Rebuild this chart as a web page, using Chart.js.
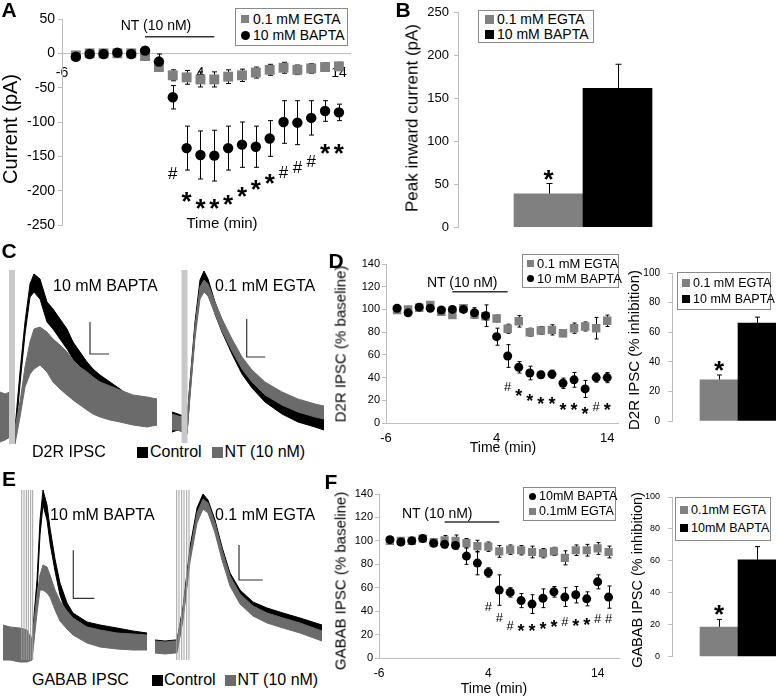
<!DOCTYPE html>
<html>
<head>
<meta charset="utf-8">
<title>NT inward current and IPSC inhibition</title>
<script src="https://cdn.jsdelivr.net/npm/chart.js@4.4.1/dist/chart.umd.min.js"></script>
<style>
  html, body { margin: 0; background: #fff; }
  #fig { position: relative; width: 777px; height: 697px; overflow: hidden; font-family: 'Liberation Sans', Arial, sans-serif; color: #000; }
  #fig canvas { position: absolute; }
  .txt { position: absolute; white-space: nowrap; line-height: 1; }
  .legend { position: absolute; box-sizing: border-box; background: #fff; display: flex; flex-direction: column; justify-content: space-evenly; line-height: 1; white-space: nowrap; }
  .legend.boxed { border: 1px solid #8a8a8a; }
  .legend .row { display: flex; align-items: center; }
  .legend .mk { display: inline-block; flex: none; }
</style>
</head>
<body>
<div id="fig"></div>
<script>
// ---- data ----
const timeA = [-5, -4, -3, -2, -1, 0, 1, 2, 3, 4, 5, 6, 7, 8, 9, 10, 11, 12, 13, 14]
const egtaA = [-3, 0, 0, 0, 0, -4, -20, -32, -35, -38, -38, -34, -32, -28, -24, -21, -24, -22, -20, -19]
const egtaErrA = [2, 2, 2, 2, 2, 3, 4, 8, 10, 11, 11, 10, 9, 8, 8, 8, 7, 7, 6, 6]
const baptaA = [-5, -1, -1, 1, -1, 4, -12, -64, -138, -148, -149, -138, -133, -136, -124, -100, -101, -94, -84, -86]
const baptaErrA = [2, 2, 2, 2, 2, 3, 11, 17, 32, 35, 37, 32, 33, 30, 26, 31, 32, 25, 15, 12]
const sigA = ['', '', '', '', '', '', '', '#', '*', '*', '*', '*', '*', '*', '*', '#', '#', '#', '*', '*']
const sigLevelA = [null, null, null, null, null, null, null, -174, -206, -216, -217, -210, -199, -188, -180, -172, -165, -156, -137, -137]

const timeD = [-5, -4, -3, -2, -1, 0, 1, 2, 3, 4, 5, 6, 7, 8, 9, 10, 11, 12, 13, 14]
const egtaD = [99.5, 100, 101.5, 104, 98, 95, 101, 95.5, 94, 92, 83, 89.5, 80, 81.5, 82, 79, 83.5, 85, 83.5, 90]
const egtaErrD = [2, 2, 2, 2, 2, 2, 2, 3, 3.5, 3, 4, 5, 3.5, 3.5, 4.5, 3, 4.5, 4, 9.5, 5]
const baptaD = [101, 97, 102, 101, 99.5, 100, 100, 97, 94.5, 76, 59, 49, 44, 42.5, 43, 35, 38, 30, 40, 40]
const baptaErrD = [2, 2, 2, 2, 2, 2, 2, 4.5, 9.5, 7.5, 10, 5, 6, 3, 3.5, 4.5, 6.5, 7.5, 4, 4.5]
const sigD = ['', '', '', '', '', '', '', '', '', '', '#', '*', '*', '*', '*', '*', '*', '*', '#', '*']
const sigLevelD = [null, null, null, null, null, null, null, null, null, null, 32, 28, 23.5, 20.5, 20.5, 15.5, 15.5, 11.7, 14.7, 15.5]

const timeF = [-5, -4, -3, -2, -1, 0, 1, 2, 3, 4, 5, 6, 7, 8, 9, 10, 11, 12, 13, 14, 15]
const baptaF = [101, 99, 100, 102, 98, 97, 96, 87, 81, 73, 58, 56, 49, 46, 51, 56.5, 52, 54, 50.5, 65, 52]
const baptaErrF = [2, 2, 2, 2, 2, 3, 3, 7, 10, 4, 13, 4, 6, 8, 8, 4.5, 8, 7, 6, 6, 9.5]
const egtaF = [100, 100, 100, 102, 99, 100.5, 100, 98, 95.5, 95, 91, 92.5, 92, 90.5, 89.5, 91, 85.5, 92, 92, 93.5, 90.5]
const egtaErrF = [2, 2, 2, 2, 3, 4, 5, 4, 5, 4, 5, 4, 4, 5, 4, 3.5, 6, 4.5, 5, 5, 5]
const sigF = ['', '', '', '', '', '', '', '', '', '#', '#', '#', '*', '*', '*', '*', '#', '*', '*', '#', '#']
const sigLevelF = [null, null, null, null, null, null, null, null, null, 44, 35, 27.6, 26.7, 27, 28.7, 30, 31, 31.5, 32, 34, 34]

const timeTicks = [-6, 4, 14]
const ntWindow = [0, 5]
const ntLevelA = 24
const ntLevelD = 115.5
const ntLevelF = 116

const peakB = [39, 162]
const peakErrB = [12, 28]
const inhibD = [27.8, 66.2]
const inhibErrD = [3.3, 4]
const inhibF = [18.5, 60.7]
const inhibErrF = [4.8, 8.2]
const barSig = ['*', '']

// example traces: upper / lower edge of each noisy sweep (arbitrary units)
const cLeftTime = [0, 5, 10, 15, 20, 25, 30, 34, 40, 47, 53, 60, 67, 73, 80, 87, 93, 100, 110, 120, 133, 147, 157]
const cLeftCtrlHi = [57, 55, 50, 23, 80, 130, 168, 178, 173, 150, 143, 133, 123, 110, 100, 90, 83, 77, 70, 63, 53, 50, 47]
const cLeftCtrlLo = [33, 33, 30, 10, 68, 118, 155, 160, 153, 130, 123, 113, 103, 93, 83, 77, 70, 63, 53, 43, 33, 30, 27]
const cLeftNtHi = [60, 58, 60, 25, 50, 85, 110, 123, 125, 120, 113, 107, 100, 92, 85, 80, 75, 70, 66, 62, 57, 55, 53]
const cLeftNtLo = [10, 12, 15, 8, 35, 65, 78, 83, 87, 80, 70, 63, 57, 52, 47, 42, 38, 35, 32, 30, 27, 25, 27]

const cRightTime = [172, 178, 183, 187, 190, 195, 200, 204, 208, 215, 222, 232, 242, 252, 265, 282, 298, 315, 324]
const cRightCtrlHi = [40, 38, 36, 32, 70, 130, 172, 181, 173, 150, 132, 110, 90, 76, 63, 53, 46, 40, 38]
const cRightCtrlLo = [20, 22, 20, 18, 58, 118, 162, 170, 162, 138, 120, 98, 78, 64, 50, 38, 30, 25, 22]
const cRightNtHi = [38, 36, 35, 31, 68, 126, 165, 172, 168, 150, 133, 113, 95, 82, 70, 60, 53, 48, 46]
const cRightNtLo = [22, 22, 20, 18, 56, 114, 153, 160, 156, 138, 121, 101, 83, 70, 57, 47, 40, 35, 33]

const eLeftTime = [3, 10, 20, 27, 32, 37, 40, 43, 47, 50, 55, 60, 67, 73, 87, 100, 117, 133, 147]
const eLeftCtrlHi = [35, 33, 32, 30, 25, 85, 145, 175, 160, 137, 106, 82, 62, 52, 43, 40, 37, 34, 32]
const eLeftCtrlLo = [12, 10, 10, 8, 12, 72, 130, 160, 145, 122, 94, 70, 50, 40, 30, 27, 24, 22, 20]
const eLeftNtHi = [40, 38, 37, 35, 25, 70, 90, 100, 98, 90, 75, 64, 54, 47, 38, 35, 32, 31, 30]
const eLeftNtLo = [5, 5, 3, 3, 5, 52, 75, 75, 72, 68, 55, 44, 36, 30, 22, 18, 16, 15, 15]

const eRightTime = [155, 165, 175, 177, 183, 190, 197, 203, 208, 215, 222, 230, 240, 253, 267, 283, 300, 322]
const eRightCtrlHi = [25, 24, 25, 25, 58, 118, 157, 171, 165, 145, 118, 92, 75, 63, 57, 52, 47, 40]
const eRightCtrlLo = [14, 13, 14, 14, 48, 108, 148, 162, 155, 135, 108, 82, 65, 53, 47, 42, 37, 30]
const eRightNtHi = [24, 23, 24, 24, 55, 113, 152, 166, 162, 142, 115, 89, 71, 59, 52, 47, 42, 34]
const eRightNtLo = [12, 11, 12, 12, 45, 103, 142, 156, 152, 132, 105, 79, 61, 49, 42, 37, 32, 24]

const stimC = [12, 184.5]
const stimE = [21.7, 24, 26.3, 28.3, 30.7, 32.7, 176.7, 179, 181.7, 184, 186.7, 189]
const stimRangeC = [8, 182]
const stimRangeE = [5, 175]
// scale bars: [corner time, corner amplitude, bar length in time, bar length in amplitude]
const scaleBarsC = [[90, 98, 19, 32], [246.7, 95, 18.5, 38]]
const scaleBarsE = [[73.3, 66.7, 21, 48], [239, 85, 23.7, 35]]

// ---- styling ----
const FONT = "'Liberation Sans', Arial, sans-serif"
const GREY = '#808080'
const NT_GREY = '#6b6b6b'
const AXIS = '#bdbdbd'

Chart.defaults.font.family = FONT
Chart.defaults.color = '#000'
Chart.defaults.animation = false
Chart.defaults.responsive = false
Chart.defaults.plugins.legend.display = false
Chart.defaults.plugins.tooltip.enabled = false

const fig = document.getElementById('fig')

function addCanvas(box) {
  const c = document.createElement('canvas')
  c.width = box.w
  c.height = box.h
  c.style.left = box.left + 'px'
  c.style.top = box.top + 'px'
  fig.appendChild(c)
  return c
}

function addText(text, x, y, size, opts = {}) {
  const el = document.createElement('div')
  el.className = 'txt'
  el.textContent = text
  el.style.left = x + 'px'
  el.style.top = y + 'px'
  el.style.fontSize = size + 'px'
  if (opts.bold) el.style.fontWeight = 'bold'
  const dx = opts.left ? '0' : '-50%'
  el.style.transform = `translate(${dx}, -50%)` + (opts.rotate ? ' rotate(-90deg)' : '')
  fig.appendChild(el)
  return el
}

function addLegend(box, entries, size, boxed = true) {
  const el = document.createElement('div')
  el.className = 'legend' + (boxed ? ' boxed' : '')
  Object.assign(el.style, {
    left: box.left + 'px', top: box.top + 'px', width: box.w + 'px', height: box.h + 'px',
    fontSize: size + 'px', paddingLeft: (box.pad || 5) + 'px'
  })
  if (box.row) el.style.flexDirection = 'row'
  if (box.row) el.style.justifyContent = 'flex-start'
  entries.forEach(e => {
    const row = document.createElement('div')
    row.className = 'row'
    if (e.gap) row.style.marginLeft = e.gap + 'px'
    const mk = document.createElement('span')
    mk.className = 'mk'
    mk.style.width = mk.style.height = e.mark + 'px'
    mk.style.background = e.color
    mk.style.marginRight = (e.space || 3) + 'px'
    if (e.shape === 'circle') mk.style.borderRadius = '50%'
    row.appendChild(mk)
    row.appendChild(document.createTextNode(e.label))
    el.appendChild(row)
  })
  fig.appendChild(el)
}

// ---- plugins ----
const errorBars = {
  id: 'errorBars',
  beforeDatasetsDraw(chart, args, opts) {
    const ctx = chart.ctx
    ctx.save()
    ctx.strokeStyle = '#000'
    ctx.lineWidth = 1
    chart.data.datasets.forEach((ds, i) => {
      if (!ds.errors) return
      const meta = chart.getDatasetMeta(i)
      const yScale = chart.scales[meta.yAxisID]
      meta.data.forEach((el, j) => {
        const err = ds.errors[j]
        if (!err) return
        const v = ds.data[j].y
        const x = Math.round(el.x) + 0.5
        const top = yScale.getPixelForValue(v + err)
        const bottom = ds.errorUpOnly ? el.y : yScale.getPixelForValue(v - err)
        ctx.beginPath()
        ctx.moveTo(x, top)
        ctx.lineTo(x, bottom)
        ctx.moveTo(x - opts.cap, top)
        ctx.lineTo(x + opts.cap, top)
        if (!ds.errorUpOnly) {
          ctx.moveTo(x - opts.cap, bottom)
          ctx.lineTo(x + opts.cap, bottom)
        }
        ctx.stroke()
      })
    })
    ctx.restore()
  }
}

const sigMarks = {
  id: 'sigMarks',
  afterDatasetsDraw(chart, args, opts) {
    if (!opts.items) return
    const {ctx, scales: {x, y}} = chart
    ctx.save()
    ctx.fillStyle = '#000'
    ctx.textAlign = 'center'
    ctx.textBaseline = 'alphabetic'
    opts.items.forEach(m => {
      const star = m.text === '*'
      const size = star ? opts.starSize : opts.hashSize
      ctx.font = `${star ? 'bold ' : ''}${size}px ${FONT}`
      const px = x.getPixelForValue(m.x)
      const py = y.getPixelForValue(m.y) + (m.dy || 0)
      // put the visual centre of the glyph on py
      ctx.fillText(m.text, px, py + size * (star ? 0.58 : 0.36))
    })
    ctx.restore()
  }
}

function sigItems(times, marks, levels) {
  return marks.map((t, i) => ({x: times[i], y: levels[i], text: t})).filter(m => m.text)
}

// ---- chart builders ----
function timeChart(box, o) {
  const canvas = addCanvas(box)
  const datasets = o.series.map(s => ({
    data: o.times.map((t, i) => ({x: t, y: s.values[i]})),
    errors: s.errors,
    showLine: false,
    pointStyle: s.shape,
    pointRadius: s.radius,
    pointBackgroundColor: s.color,
    pointBorderColor: s.color,
    pointBorderWidth: 0,
    order: s.order
  }))
  datasets.push({
    data: ntWindow.map(t => ({x: t, y: o.ntLevel})),
    showLine: true,
    borderColor: '#333',
    borderWidth: 1.5,
    pointRadius: 0,
    order: 5
  })
  return new Chart(canvas, {
    type: 'scatter',
    data: {datasets},
    options: {
      layout: {padding: o.padding},
      scales: {
        x: {
          type: 'linear',
          min: o.xMin,
          max: o.xMax,
          offset: false,
          position: o.xPosition || 'bottom',
          afterBuildTicks: s => { s.ticks = timeTicks.map(v => ({value: v})) },
          afterFit: s => { if (o.xHeight != null) s.height = o.xHeight },
          grid: {display: false, drawTicks: false},
          border: {color: AXIS},
          ticks: {font: {size: o.xTickSize}, padding: o.xPad, maxRotation: 0, autoSkip: false}
        },
        y: {
          min: o.yMin,
          max: o.yMax,
          afterFit: s => { s.width = o.yWidth },
          grid: {drawOnChartArea: false, tickLength: 4, color: AXIS},
          border: {color: AXIS},
          ticks: {stepSize: o.yStep, font: {size: o.yTickSize}, padding: o.yPad || 2}
        }
      },
      plugins: {
        errorBars: {cap: o.cap},
        sigMarks: {items: o.sig, starSize: o.starSize, hashSize: o.hashSize}
      }
    },
    plugins: [errorBars, sigMarks]
  })
}

function barChart(box, o) {
  const canvas = addCanvas(box)
  const min = -(o.firstCenter - o.areaLeft) / o.step
  const max = min + (o.areaRight - o.areaLeft) / o.step
  return new Chart(canvas, {
    type: 'bar',
    data: {
      datasets: [{
        data: o.values.map((v, i) => ({x: i, y: v})),
        errors: o.errors,
        errorUpOnly: true,
        backgroundColor: [GREY, '#000'],
        barThickness: o.step,
        borderWidth: 0
      }]
    },
    options: {
      layout: {padding: o.padding},
      scales: {
        x: {
          type: 'linear', min, max, offset: false, display: false,
          afterBuildTicks: s => { s.ticks = o.values.map((v, i) => ({value: i})) }
        },
        y: {
          min: 0,
          max: o.yMax,
          afterFit: s => { s.width = o.yWidth },
          grid: {drawOnChartArea: false, tickLength: 4, color: AXIS},
          border: {color: AXIS},
          ticks: {stepSize: o.yStep, font: {size: o.yTickSize}, padding: o.yPad}
        }
      },
      plugins: {
        errorBars: {cap: o.cap},
        sigMarks: {
          items: barSig.map((t, i) => ({x: i, y: o.values[i] + o.errors[i], text: t, dy: -11})).filter(m => m.text),
          starSize: o.starSize,
          hashSize: o.starSize
        }
      }
    },
    plugins: [errorBars, sigMarks]
  })
}

function band(time, hi, lo, color, order) {
  return [
    {data: time.map((t, i) => ({x: t, y: hi[i]})), borderColor: color, borderWidth: 1, pointRadius: 0, order},
    {data: time.map((t, i) => ({x: t, y: lo[i]})), borderColor: color, borderWidth: 1, pointRadius: 0,
      fill: '-1', backgroundColor: color, order}
  ]
}

function traceChart(box, traces, stim, stimRange, stimStyle, bars) {
  const canvas = addCanvas(box)
  const datasets = []
  traces.forEach(tr => datasets.push(...band(tr.time, tr.hi, tr.lo, tr.color, tr.order)))
  datasets.push({
    data: stim.flatMap(t => [{x: t, y: stimRange[0]}, {x: t, y: stimRange[1]}, {x: t, y: null}]),
    borderColor: stimStyle.color,
    borderWidth: stimStyle.width,
    pointRadius: 0,
    spanGaps: false,
    order: -1
  })
  bars.forEach(([t, a, dt, da]) => datasets.push({
    data: [{x: t, y: a + da}, {x: t, y: a}, {x: t + dt, y: a}],
    borderColor: '#333',
    borderWidth: 1.2,
    pointRadius: 0,
    order: -2
  }))
  return new Chart(canvas, {
    type: 'line',
    data: {datasets},
    options: {
      layout: {padding: 0},
      scales: {
        x: {type: 'linear', display: false, offset: false, min: 0, max: box.w},
        y: {display: false, min: 0, max: box.h}
      }
    }
  })
}

// ---- panel A ----
timeChart({left: 0, top: 0, w: 360, h: 240}, {
  times: timeA,
  series: [
    {values: baptaA, errors: baptaErrA, color: '#000', shape: 'circle', radius: 5.2, order: 0},
    {values: egtaA, errors: egtaErrA, color: GREY, shape: 'rect', radius: 7, order: 1}
  ],
  ntLevel: ntLevelA,
  sig: sigItems(timeA, sigA, sigLevelA),
  xMin: -6, xMax: 14.8, xPosition: {y: 0}, xTickSize: 14, xPad: 11,
  yMin: -250, yMax: 50, yStep: 50, yTickSize: 14, yWidth: 62, yPad: 3,
  padding: {top: 19, bottom: 15, right: 10, left: 0},
  cap: 2.5, starSize: 26, hashSize: 17
})

// ---- panel B ----
barChart({left: 380, top: 0, w: 280, h: 240}, {
  values: peakB, errors: peakErrB,
  areaLeft: 458, areaRight: 660, firstCenter: 548.5, step: 69,
  yMax: 250, yStep: 50, yTickSize: 13, yWidth: 78, yPad: 5,
  padding: {top: 12, bottom: 12, right: 0, left: 0},
  cap: 3, starSize: 26
})

// ---- panel C ----
traceChart({left: 0, top: 262, w: 330, h: 190}, [
  {time: cLeftTime, hi: cLeftCtrlHi, lo: cLeftCtrlLo, color: '#000', order: 1},
  {time: cLeftTime, hi: cLeftNtHi, lo: cLeftNtLo, color: NT_GREY, order: 0},
  {time: cRightTime, hi: cRightCtrlHi, lo: cRightCtrlLo, color: '#000', order: 1},
  {time: cRightTime, hi: cRightNtHi, lo: cRightNtLo, color: NT_GREY, order: 0}
], stimC, stimRangeC, {color: '#c8c8c8', width: 6}, scaleBarsC)

// ---- panel D ----
timeChart({left: 330, top: 250, w: 300, h: 200}, {
  times: timeD,
  series: [
    {values: baptaD, errors: baptaErrD, color: '#000', shape: 'circle', radius: 4.5, order: 0},
    {values: egtaD, errors: egtaErrD, color: GREY, shape: 'rect', radius: 6, order: 1}
  ],
  ntLevel: ntLevelD,
  sig: sigItems(timeD, sigD, sigLevelD),
  xMin: -6, xMax: 15, xTickSize: 13, xPad: 8, xHeight: 27,
  yMin: 0, yMax: 140, yStep: 20, yTickSize: 11, yWidth: 56, yPad: 2,
  padding: {top: 14, bottom: 0, right: 11.7, left: 0},
  cap: 2, starSize: 18, hashSize: 13
})

barChart({left: 640, top: 255, w: 137, h: 180}, {
  values: inhibD, errors: inhibErrD,
  areaLeft: 672, areaRight: 776, firstCenter: 719, step: 38,
  yMax: 100, yStep: 20, yTickSize: 10, yWidth: 32, yPad: 8,
  padding: {top: 18, bottom: 12, right: 1, left: 0},
  cap: 2.5, starSize: 26
})

// ---- panel E ----
traceChart({left: 0, top: 485, w: 330, h: 180}, [
  {time: eLeftTime, hi: eLeftCtrlHi, lo: eLeftCtrlLo, color: '#000', order: 1},
  {time: eLeftTime, hi: eLeftNtHi, lo: eLeftNtLo, color: NT_GREY, order: 0},
  {time: eRightTime, hi: eRightCtrlHi, lo: eRightCtrlLo, color: '#000', order: 1},
  {time: eRightTime, hi: eRightNtHi, lo: eRightNtLo, color: NT_GREY, order: 0}
], stimE, stimRangeE, {color: '#a0a0a0', width: 1}, scaleBarsE)

// ---- panel F ----
timeChart({left: 320, top: 480, w: 310, h: 200}, {
  times: timeF,
  series: [
    {values: baptaF, errors: baptaErrF, color: '#000', shape: 'circle', radius: 4.5, order: 0},
    {values: egtaF, errors: egtaErrF, color: GREY, shape: 'rect', radius: 5.8, order: 1}
  ],
  ntLevel: ntLevelF,
  sig: sigItems(timeF, sigF, sigLevelF),
  xMin: -6, xMax: 16, xTickSize: 12, xPad: 8, xHeight: 22,
  yMin: 0, yMax: 140, yStep: 20, yTickSize: 11, yWidth: 59, yPad: 2,
  padding: {top: 14, bottom: 0, right: 10.5, left: 0},
  cap: 2, starSize: 18, hashSize: 13
})

barChart({left: 640, top: 480, w: 137, h: 190}, {
  values: inhibF, errors: inhibErrF,
  areaLeft: 672, areaRight: 776, firstCenter: 719, step: 38,
  yMax: 100, yStep: 20, yTickSize: 9, yWidth: 32, yPad: 8,
  padding: {top: 17, bottom: 11, right: 1, left: 0},
  cap: 2.5, starSize: 26
})

// ---- text ----
addText('A', 9, 9, 21, {bold: true})
addText('B', 403, 9, 21, {bold: true})
addText('C', 9, 250, 21, {bold: true})
addText('D', 336, 260, 21, {bold: true})
addText('E', 9, 478, 21, {bold: true})
addText('F', 331, 481, 21, {bold: true})

addText('NT (10 nM)', 156, 25, 14)
addText('Time (min)', 222, 222, 15)
addText('Current (pA)', 10, 129, 20, {rotate: true})
addLegend({left: 235, top: 8, w: 113, h: 38}, [
  {label: '0.1 mM EGTA', color: GREY, mark: 8, space: 4},
  {label: '10 mM BAPTA', color: '#000', mark: 9, shape: 'circle', space: 3}
], 14)

addText('Peak inward current (pA)', 412, 118, 17, {rotate: true})
addLegend({left: 478, top: 10, w: 116, h: 33, pad: 6}, [
  {label: '0.1 mM EGTA', color: GREY, mark: 9},
  {label: '10 mM BAPTA', color: '#000', mark: 9}
], 14)

addText('10 mM BAPTA', 53, 286, 16, {left: true})
addText('0.1 mM EGTA', 215, 286, 16, {left: true})
addText('D2R IPSC', 32, 452, 16, {left: true})
addLegend({left: 132, top: 443, w: 190, h: 18, row: true, pad: 0}, [
  {label: 'Control', color: '#000', mark: 11, space: 2},
  {label: 'NT (10 nM)', color: NT_GREY, mark: 11, space: 2, gap: 10}
], 16, false)

addText('NT (10 nM)', 427, 282, 14, {left: true})
addText('Time (min)', 503, 447, 14)
addText('D2R IPSC (% baseline)', 340, 344, 15, {rotate: true})
addLegend({left: 522, top: 254, w: 97, h: 34, pad: 4}, [
  {label: '0.1 mM EGTA', color: GREY, mark: 7},
  {label: '10 mM BAPTA', color: '#000', mark: 7, shape: 'circle'}
], 13)
addText('D2R IPSC (% inhibition)', 633, 350, 15, {rotate: true})
addLegend({left: 677, top: 272, w: 94, h: 38, pad: 4}, [
  {label: '0.1 mM EGTA', color: GREY, mark: 8},
  {label: '10 mM BAPTA', color: '#000', mark: 8}
], 12.5)

addText('10 mM BAPTA', 50, 515, 16, {left: true})
addText('0.1 mM EGTA', 215, 515, 16, {left: true})
addText('GABAB IPSC', 32, 680, 16, {left: true})
addLegend({left: 147, top: 671, w: 190, h: 18, row: true, pad: 0}, [
  {label: 'Control', color: '#000', mark: 11, space: 1},
  {label: 'NT (10 nM)', color: NT_GREY, mark: 11, space: 2, gap: 9}
], 16, false)

addText('NT (10 nM)', 402, 513, 14, {left: true})
addText('Time (min)', 494, 688, 14)
addText('GABAB IPSC (% baseline)', 340, 581, 15, {rotate: true})
addLegend({left: 523, top: 487, w: 93, h: 34, pad: 5}, [
  {label: '10mM BAPTA', color: '#000', mark: 7, shape: 'circle'},
  {label: '0.1mM EGTA', color: GREY, mark: 7}
], 12.5)
addText('GABAB IPSC (% inhibition)', 637, 580, 14.5, {rotate: true})
addLegend({left: 675, top: 497, w: 96, h: 44, pad: 4}, [
  {label: '0.1mM EGTA', color: GREY, mark: 8},
  {label: '10mM BAPTA', color: '#000', mark: 8}
], 12.5)
</script>
</body>
</html>
